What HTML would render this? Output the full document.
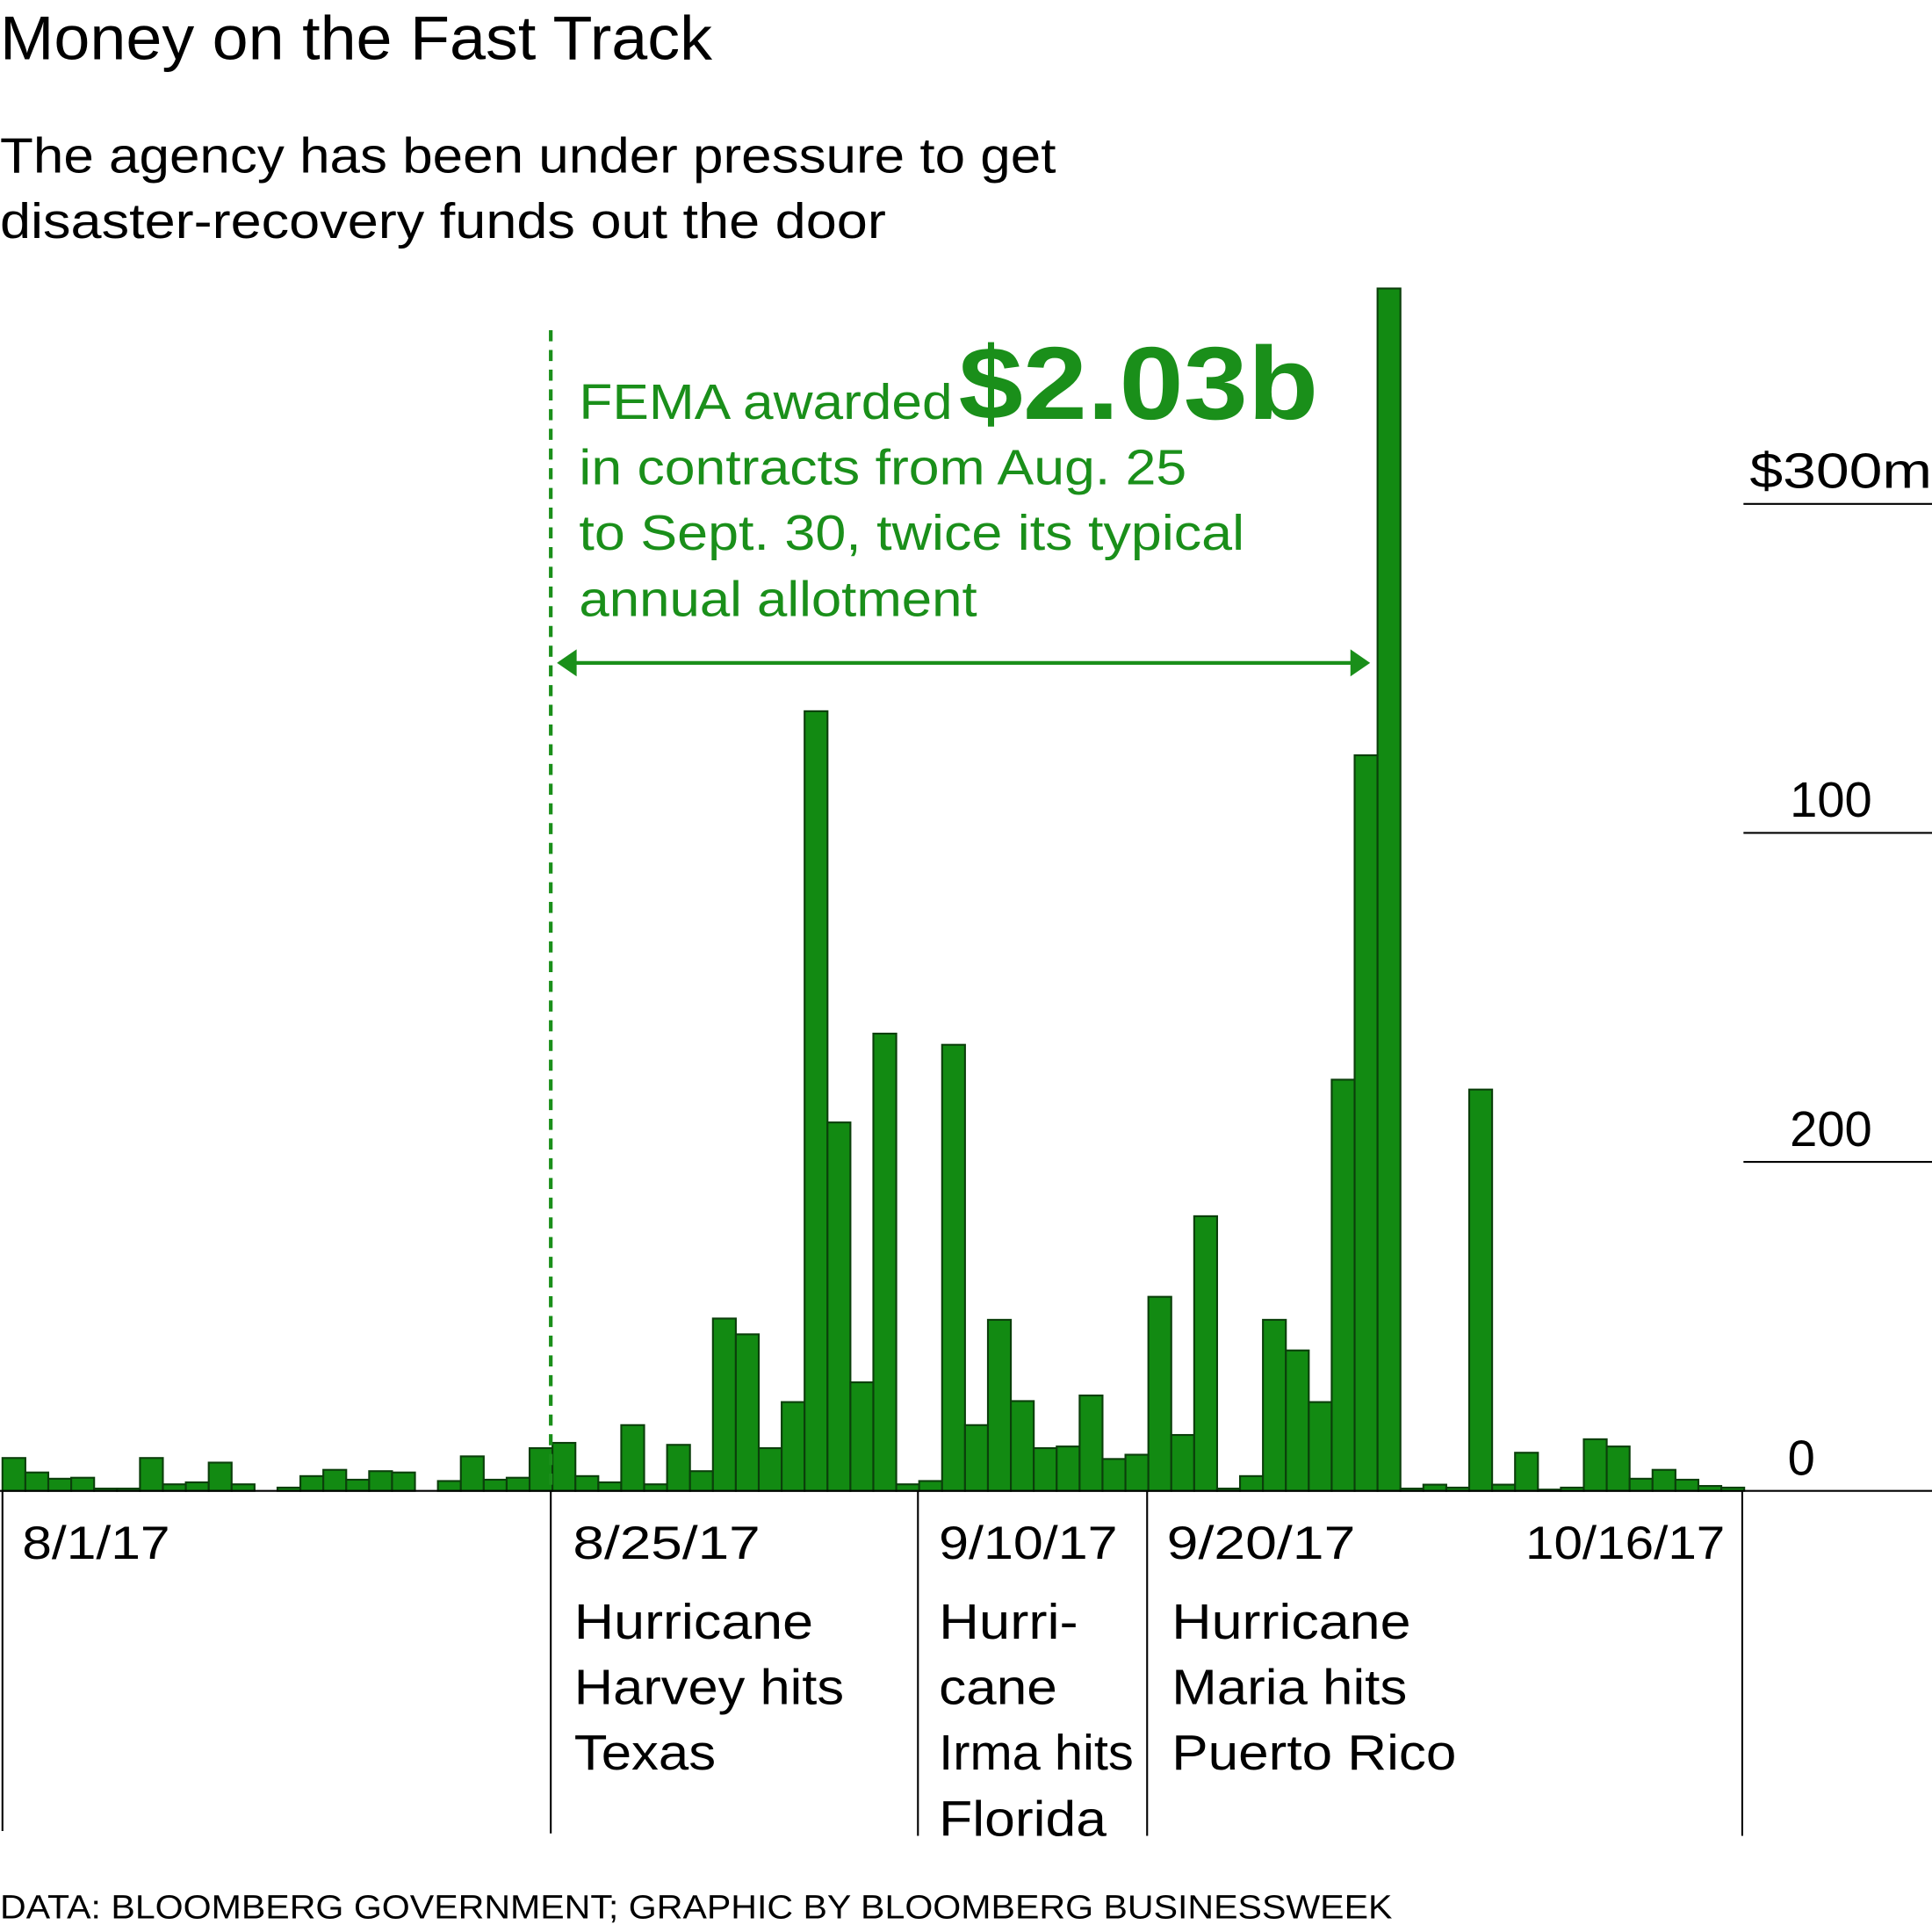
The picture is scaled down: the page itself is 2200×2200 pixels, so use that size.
<!DOCTYPE html>
<html><head><meta charset="utf-8"><style>
html,body{margin:0;padding:0;background:#fff;}
svg{display:block;font-family:"Liberation Sans",sans-serif;}
</style></head><body>
<svg id="chart" width="2200" height="2200" viewBox="0 0 1568 1568" xmlns="http://www.w3.org/2000/svg">
<text x="0" y="48" font-size="50" fill="#000" textLength="578" lengthAdjust="spacingAndGlyphs">Money on the Fast Track</text>
<text font-size="40" fill="#000"><tspan x="0" y="140" textLength="857" lengthAdjust="spacingAndGlyphs">The agency has been under pressure to get</tspan><tspan x="0" y="193" textLength="719" lengthAdjust="spacingAndGlyphs">disaster-recovery funds out the door</tspan></text>
<g id="grid"></g>
<g id="bars"></g>
<line x1="0" y1="1210" x2="1568" y2="1210" stroke="#000" stroke-width="1.5"/>
<line x1="447" y1="268" x2="447" y2="1210" stroke="#1a8f1a" stroke-width="3" stroke-dasharray="9,7"/>
<g fill="#1a8f1a" font-size="40">
<text x="470" y="340" textLength="303" lengthAdjust="spacingAndGlyphs">FEMA awarded</text>
<text x="778" y="340" font-size="84" font-weight="bold" textLength="292" lengthAdjust="spacingAndGlyphs">$2.03b</text>
<text x="470" y="393" textLength="493" lengthAdjust="spacingAndGlyphs">in contracts from Aug. 25</text>
<text x="470" y="446" textLength="540" lengthAdjust="spacingAndGlyphs">to Sept. 30, twice its typical</text>
<text x="470" y="500" textLength="323" lengthAdjust="spacingAndGlyphs">annual allotment</text>
</g>
<g>
<line x1="462" y1="538" x2="1100" y2="538" stroke="#1a8f1a" stroke-width="3"/>
<polygon points="452,538 468,527 468,549" fill="#1a8f1a"/>
<polygon points="1112,538 1096,527 1096,549" fill="#1a8f1a"/>
</g>
<g stroke="#000" stroke-width="1.5">
<line x1="2" y1="1210" x2="2" y2="1486"/>
<line x1="447" y1="1210" x2="447" y2="1488"/>
<line x1="745" y1="1210" x2="745" y2="1490"/>
<line x1="931" y1="1210" x2="931" y2="1490"/>
<line x1="1414" y1="1210" x2="1414" y2="1490"/>
</g>
<g font-size="38" fill="#000">
<text x="18" y="1265" textLength="120" lengthAdjust="spacingAndGlyphs">8/1/17</text>
<text x="465" y="1265" textLength="152" lengthAdjust="spacingAndGlyphs">8/25/17</text>
<text x="762" y="1265" textLength="145" lengthAdjust="spacingAndGlyphs">9/10/17</text>
<text x="947" y="1265" textLength="153" lengthAdjust="spacingAndGlyphs">9/20/17</text>
<text x="1238" y="1265" textLength="162" lengthAdjust="spacingAndGlyphs">10/16/17</text>
</g>
<g font-size="40" fill="#000">
<text><tspan x="466" y="1330" textLength="194" lengthAdjust="spacingAndGlyphs">Hurricane</tspan><tspan x="466" y="1383" textLength="219" lengthAdjust="spacingAndGlyphs">Harvey hits</tspan><tspan x="466" y="1436" textLength="115" lengthAdjust="spacingAndGlyphs">Texas</tspan></text>
<text><tspan x="762" y="1330" textLength="113" lengthAdjust="spacingAndGlyphs">Hurri-</tspan><tspan x="762" y="1383" textLength="96" lengthAdjust="spacingAndGlyphs">cane</tspan><tspan x="762" y="1436" textLength="158" lengthAdjust="spacingAndGlyphs">Irma hits</tspan><tspan x="762" y="1490" textLength="136" lengthAdjust="spacingAndGlyphs">Florida</tspan></text>
<text><tspan x="951" y="1330" textLength="194" lengthAdjust="spacingAndGlyphs">Hurricane</tspan><tspan x="951" y="1383" textLength="191" lengthAdjust="spacingAndGlyphs">Maria hits</tspan><tspan x="951" y="1436" textLength="231" lengthAdjust="spacingAndGlyphs">Puerto Rico</tspan></text>
</g>
<text x="0" y="1557" font-size="27" fill="#000" textLength="1130" lengthAdjust="spacingAndGlyphs">DATA: BLOOMBERG GOVERNMENT; GRAPHIC BY BLOOMBERG BUSINESSWEEK</text>
</svg>
<script>
const values = [10,5.6,3.7,4,0.7,0.7,10,2,2.6,8.6,2,0,1,4.5,6.4,3.4,6,5.6,0,3,10.5,3.4,4,13,14.6,4.5,2.6,20,2,14,6,52.4,47.6,13,27,237,112,33,139,2,3,135.6,20,52,27.3,13,13.5,29,9.7,11,59,17,83.5,0.7,4.5,52,42.7,27,125,223.6,365.5,0.7,1.9,1,122,1.9,11.6,0.4,1,15.7,13.5,3.7,6.4,3.4,1.5,1];
const tickValues = [0,100,200,300];
const tickLabels = ["0","200","100","$300m"];
const NS="http://www.w3.org/2000/svg";
const x0=2, bw=18.6, yBase=1210, pxPerUnit=2.67;
function xScale(i){return x0+i*bw;}
function yScale(v){return yBase-v*pxPerUnit;}
const bars=document.getElementById('bars');
values.forEach((v,i)=>{
  if(v<=0) return;
  const r=document.createElementNS(NS,'rect');
  
  
  r.setAttribute('x',xScale(i));
  r.setAttribute('y',yScale(v));
  r.setAttribute('width',bw);
  r.setAttribute('height',yBase-yScale(v));
  r.setAttribute('fill','#128a12');
  r.setAttribute('stroke','#0b3f0b');
  r.setAttribute('stroke-width','1.5');
  bars.appendChild(r);
});
const grid=document.getElementById('grid');
tickValues.forEach((t,i)=>{
  const y=yScale(t);
  if(t>0){
    const l=document.createElementNS(NS,'line');
    
    
    l.setAttribute('x1',1415);l.setAttribute('x2',1568);
    l.setAttribute('y1',y);l.setAttribute('y2',y);
    l.setAttribute('stroke','#000');l.setAttribute('stroke-width','1.5');
    grid.appendChild(l);
  }
  const tx=document.createElementNS(NS,'text');
  
  
  tx.setAttribute('font-size','40');
  tx.setAttribute('y',y-13);
  if(t===0){tx.setAttribute('x',1462);tx.setAttribute('text-anchor','middle');}
  else if(i===tickValues.length-1){tx.setAttribute('x',1420);tx.setAttribute('textLength','148');tx.setAttribute('lengthAdjust','spacingAndGlyphs');}
  else {tx.setAttribute('x',1486);tx.setAttribute('text-anchor','middle');}
  tx.textContent=tickLabels[i];
  grid.appendChild(tx);
});
</script>
</body></html>
